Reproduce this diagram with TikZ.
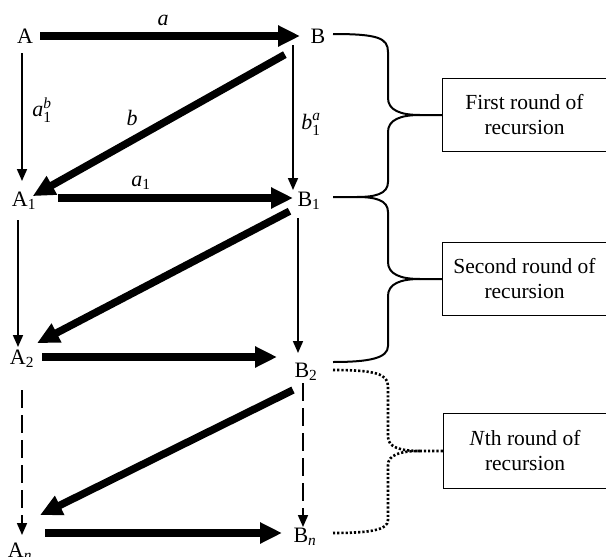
\documentclass[tikz,border=0pt]{standalone}
\usepackage{fontspec}
\setmainfont{Liberation Serif}
\usepackage{amsmath}
\usetikzlibrary{arrows.meta,calc}
\begin{document}
\begin{tikzpicture}[x=1pt,y=-1pt,
  every node/.style={font=\fontsize{22}{25}\selectfont, inner sep=0pt},
  big/.style={line width=7.5pt, -{Triangle[length=22pt,width=20pt]}},
  slim/.style={line width=1.7pt, -{Triangle[length=12pt,width=10pt]}},
  dashline/.style={dash pattern=on 18pt off 7pt},
  brace/.style={line width=2pt},
  dotbrace/.style={line width=2.6pt, dash pattern=on 2.2pt off 2pt},
  boxline/.style={line width=1.3pt},
  boxnode/.style={minimum width=163pt, minimum height=72pt, align=center, font=\fontsize{21.5}{25}\selectfont}]
\useasboundingbox (0,0) rectangle (606,557);

% vertices
\node (A) at (25,36) {A};
\node (B) at (318,36) {B};
\node (A1) at (24,201) {A$_{\text{1}}$};
\node (B1) at (309,201) {B$_{\text{1}}$};
\node (A2) at (22,359) {A$_{\text{2}}$};
\node (B2) at (306,372) {B$_{\text{2}}$};
\node (An) at (20,552) {A$_{\text{\itshape n}}$};
\node (Bn) at (305,537) {B$_{\text{\itshape n}}$};

% labels
\node (la) at (163,20) {\textit{a}};
\node (lb) at (132,118) {\textit{b}};
\node (la1b) at (42,110) {$\text{\itshape a}_{\text{1}}^{\text{\itshape b}}$};
\node (lb1a) at (311,124) {$\text{\itshape b}_{\text{1}}^{\text{\itshape a}}$};
\node (la1) at (141,183) {$\text{\itshape a}_{\text{1}}$};

% arrows
\draw[big, shorten <=15pt, shorten >=18pt] (A.center) -- (B.center);
\draw[slim, shorten <=17pt, shorten >=20pt] ($(A.center)+(-3,0)$) -- ($(A.center |- A1.center)+(-3,0)$);
\draw[slim, shorten <=9pt, shorten >=11pt] ($(B.center)+(-25,0)$) -- ($(B.center |- B1.center)+(-25,0)$);
\draw[big, shorten <=38pt, shorten >=10pt] (B.center) -- (A1.center);
\draw[big, shorten <=34pt, shorten >=16pt] ($(A1.center)+(0,-3)$) -- ($(B1.center)+(0,-3)$);
\draw[slim, shorten <=19pt, shorten >=12pt] ($(A1.center)+(-6,0)$) -- ($(A1.center |- A2.center)+(-6,0)$);
\draw[slim, shorten <=17pt, shorten >=19pt] ($(B1.center)+(-11,0)$) -- ($(B1.center |- B2.center)+(-11,0)$);
\draw[big, shorten <=22pt, shorten >=17pt] (B1.center) -- ($(A2.center)+(0,-8)$);
\draw[big, shorten <=20pt, shorten >=29pt] ($(A2.center)+(0,-2)$) -- ($(A2.center -| B2.center)+(0,-2)$);
\draw[slim, dashline, shorten <=31pt, shorten >=17pt] (A2.center) -- (A2.center |- An.center);
\draw[slim, dashline, shorten <=11pt, shorten >=10pt] ($(B2.center)+(-3,0)$) -- ($(B2.center |- Bn.center)+(-3,0)$);
\draw[big, shorten <=14.5pt, shorten >=22.3pt] ($(B2.center)+(0,11.6)$) -- ($(An.center)+(0,-27)$);
\draw[big, shorten <=25pt, shorten >=23pt] ($(An.center |- Bn.center)+(0,-4)$) -- ($(Bn.center)+(0,-4)$);

% boxes
\node[boxnode] (box1) at (524.5,115) {First round of\\recursion};
\node[boxnode] (box2) at (524.5,279) {Second round of\\recursion};
\node[boxnode, minimum width=162pt, minimum height=74pt] (box3) at (525,451) {\textit{N}th round of\\recursion};
\draw[boxline] (box1.north east) -- (box1.north west) -- (box1.south west) -- (box1.south east);
\draw[boxline] (box2.north east) -- (box2.north west) -- (box2.south west) -- (box2.south east);
\draw[boxline] (box3.north east) -- (box3.north west) -- (box3.south west) -- (box3.south east);

% braces
\coordinate (b1s) at (333,34);
\coordinate (t1) at (420,115);
\coordinate (c12) at (357,197);
\coordinate (b12) at (333,197);
\coordinate (t2) at (420,279);
\coordinate (b2e) at (333,362);
\coordinate (b3s) at (333,370);
\coordinate (t3) at (420,451);
\coordinate (b3e) at (333,533);

\draw[brace] (b1s) .. controls (378,34) and (388,38) .. (388,52) -- (388,98)
  .. controls (388,110) and (400,115) .. (t1) -- (box1.west);
\draw[brace] (t1) .. controls (400,115) and (388,120) .. (388,132) -- (388,182)
  .. controls (388,194) and (375,197) .. (c12) -- (b12);
\draw[brace] (c12) .. controls (375,197) and (388,200) .. (388,212) -- (388,262)
  .. controls (388,274) and (400,279) .. (t2) -- (box2.west);
\draw[brace] (t2) .. controls (400,279) and (388,284) .. (388,296) -- (388,346)
  .. controls (388,358) and (370,362) .. (b2e);
\draw[dotbrace] (b3s) .. controls (375,370) and (388,374) .. (388,386) -- (388,437)
  .. controls (388,447) and (400,451) .. (t3) -- (box3.west);
\draw[dotbrace] (t3) .. controls (400,451) and (388,455) .. (388,465) -- (388,520)
  .. controls (388,530) and (370,533) .. (b3e);
\end{tikzpicture}
\end{document}
